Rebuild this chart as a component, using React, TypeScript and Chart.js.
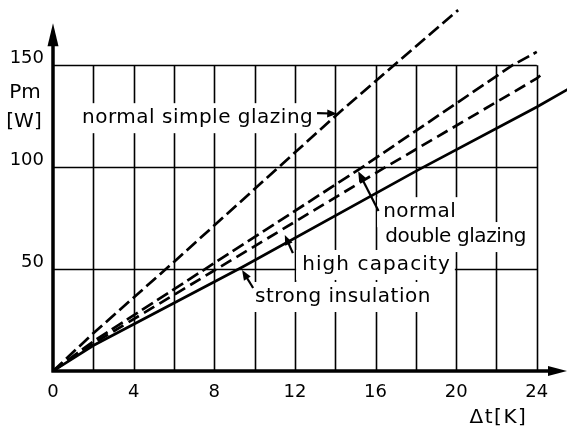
import React, { useEffect, useRef } from "react";
import { Chart, registerables } from "chart.js";

Chart.register(...registerables);

// ---- data ----
const xTickValues = [0, 4, 8, 12, 16, 20, 24];
const yTickValues = [50, 100, 150];
const gridXValues = [2, 4, 6, 8, 10, 12, 14, 16, 18, 20, 22, 24];
const gridYValues = [50, 100, 150];

const simpleGlazingX = [0, 2, 6, 14, 16.8, 20.1];
const simpleGlazingY = [0, 18.5, 53.5, 125, 149, 177];
const doubleGlazingX = [0, 2, 15.2, 22.8, 24];
const doubleGlazingY = [0, 14.5, 99, 150, 156.5];
const highCapacityX = [0, 2, 16.5, 24, 24.3];
const highCapacityY = [0, 13.5, 100, 143.5, 146];
const strongInsulationX = [0, 2, 9.4, 18.1, 24, 25.6];
const strongInsulationY = [0, 12.5, 51, 98.5, 129.5, 138.5];

const labelSimple = ["normal simple glazing"];
const labelDouble = ["normal", "double glazing"];
const labelCapacity = ["high capacity"];
const labelInsulation = ["strong insulation"];

const FONT = '"DejaVu Sans", sans-serif';

type Ann = {
  lines: string[];
  x: number[]; // left x (data) per line
  y: number[]; // centre y (data) per line
  sp: number[]; // letter spacing per line
  from: [number, number];
  to: [number, number];
};

const annotations: Ann[] = [
  { lines: labelSimple, x: [1.44], y: [124], sp: [0.5], from: [13.1, 126.5], to: [14.1, 126.2] },
  { lines: labelDouble, x: [16.38, 16.48], y: [77.9, 65.7], sp: [0.5, -0.4], from: [16.15, 78.5], to: [15.14, 98] },
  { lines: labelCapacity, x: [12.36], y: [52], sp: [1.1], from: [11.9, 57.8], to: [11.5, 66.7] },
  { lines: labelInsulation, x: [10.02], y: [36.3], sp: [0.5], from: [9.93, 40.7], to: [9.38, 49.5] },
];

const toPoints = (xs: number[], ys: number[]) => xs.map((x, i) => ({ x, y: ys[i] }));

function setTextFont(ctx: CanvasRenderingContext2D, sp: number) {
  ctx.font = `20px ${FONT}`;
  (ctx as any).letterSpacing = `${sp}px`;
}

const engPlugin = {
  id: "engPlugin",
  beforeDatasetsDraw(chart: any) {
    const { ctx, scales } = chart;
    const xs = scales.x;
    const ys = scales.y;
    ctx.save();
    const x0 = xs.getPixelForValue(0);
    const xg = xs.getPixelForValue(24);
    const y0 = ys.getPixelForValue(0);
    const yg = ys.getPixelForValue(150);
    ctx.strokeStyle = "#000";
    ctx.lineWidth = 1.6;
    ctx.beginPath();
    gridXValues.forEach((v) => {
      const p = Math.round(xs.getPixelForValue(v)) + 0.5;
      ctx.moveTo(p, y0);
      ctx.lineTo(p, yg);
    });
    gridYValues.forEach((v) => {
      const p = Math.round(ys.getPixelForValue(v)) + 0.5;
      ctx.moveTo(x0, p);
      ctx.lineTo(xg, p);
    });
    ctx.stroke();

    // white boxes that interrupt the grid behind the labels
    ctx.fillStyle = "#fff";
    annotations.forEach((a) => {
      a.lines.forEach((t, i) => {
        setTextFont(ctx, a.sp[i]);
        const w = ctx.measureText(t).width;
        const lx = xs.getPixelForValue(a.x[i]);
        const cy = ys.getPixelForValue(a.y[i]);
        ctx.fillRect(lx - 6, cy - 15, w + 10, 30);
      });
    });
    (ctx as any).letterSpacing = "0px";
    ctx.restore();
  },
  afterDatasetsDraw(chart: any) {
    const { ctx, scales, chartArea } = chart;
    const xs = scales.x;
    const ys = scales.y;
    ctx.save();
    ctx.fillStyle = "#000";
    ctx.strokeStyle = "#000";

    // axes
    const x0 = xs.getPixelForValue(0);
    const y0 = ys.getPixelForValue(0);
    const yTip = ys.getPixelForValue(170.5);
    const xTip = chartArea.right;
    ctx.lineWidth = 3.5;
    ctx.beginPath();
    ctx.moveTo(x0, y0 + 1.5);
    ctx.lineTo(x0, yTip + 12);
    ctx.moveTo(x0 - 1.5, y0);
    ctx.lineTo(xTip - 10, y0);
    ctx.stroke();
    ctx.beginPath();
    ctx.moveTo(x0, yTip);
    ctx.lineTo(x0 - 5.5, yTip + 23);
    ctx.lineTo(x0 + 5.5, yTip + 23);
    ctx.closePath();
    ctx.fill();
    ctx.beginPath();
    ctx.moveTo(xTip, y0);
    ctx.lineTo(xTip - 19, y0 - 5);
    ctx.lineTo(xTip - 19, y0 + 5);
    ctx.closePath();
    ctx.fill();

    // y tick labels (above their grid line, as in the reference)
    ctx.font = `18px ${FONT}`;
    ctx.textAlign = "right";
    ctx.textBaseline = "middle";
    yTickValues.forEach((v) => {
      ctx.fillText(String(v), chartArea.left - 9, ys.getPixelForValue(v) - 7);
    });

    // axis titles
    ctx.font = `20px ${FONT}`;
    ctx.textAlign = "center";
    ctx.fillText("Pm", chartArea.left - 28, 93);
    ctx.fillText("[W]", chartArea.left - 29, 122);
    (ctx as any).letterSpacing = "1.5px";
    ctx.fillText("Δt[K]", xs.getPixelForValue(22.1), y0 + 47);

    // labels and arrows
    ctx.textAlign = "left";
    annotations.forEach((a) => {
      a.lines.forEach((t, i) => {
        setTextFont(ctx, a.sp[i]);
        ctx.fillText(t, xs.getPixelForValue(a.x[i]), ys.getPixelForValue(a.y[i]));
      });
      const fx = xs.getPixelForValue(a.from[0]);
      const fy = ys.getPixelForValue(a.from[1]);
      const tx = xs.getPixelForValue(a.to[0]);
      const ty = ys.getPixelForValue(a.to[1]);
      const ang = Math.atan2(ty - fy, tx - fx);
      ctx.lineWidth = 2.2;
      ctx.beginPath();
      ctx.moveTo(fx, fy);
      ctx.lineTo(tx - 6 * Math.cos(ang), ty - 6 * Math.sin(ang));
      ctx.stroke();
      ctx.beginPath();
      ctx.moveTo(tx, ty);
      ctx.lineTo(tx - 10 * Math.cos(ang) + 4 * Math.sin(ang), ty - 10 * Math.sin(ang) - 4 * Math.cos(ang));
      ctx.lineTo(tx - 10 * Math.cos(ang) - 4 * Math.sin(ang), ty - 10 * Math.sin(ang) + 4 * Math.cos(ang));
      ctx.closePath();
      ctx.fill();
    });
    (ctx as any).letterSpacing = "0px";
    ctx.restore();
  },
};

export default function App() {
  const ref = useRef<HTMLCanvasElement | null>(null);
  useEffect(() => {
    if (!ref.current) return;
    const lineDs = (label: string, xs: number[], ys: number[], dash: number[]) => ({
      label,
      data: toPoints(xs, ys),
      borderColor: "#000",
      borderWidth: 2.7,
      borderDash: dash,
      pointRadius: 0,
      showLine: true,
      fill: false,
      tension: 0,
    });
    const chart = new Chart(ref.current, {
      type: "scatter",
      data: {
        datasets: [
          lineDs("normal simple glazing", simpleGlazingX, simpleGlazingY, [13, 5]),
          lineDs("normal double glazing", doubleGlazingX, doubleGlazingY, [13, 5]),
          lineDs("high capacity", highCapacityX, highCapacityY, [12, 6]),
          lineDs("strong insulation", strongInsulationX, strongInsulationY, []),
        ],
      },
      options: {
        responsive: false,
        animation: false,
        layout: { padding: { top: 4, right: 1, left: 0, bottom: 0 } },
        plugins: { legend: { display: false }, tooltip: { enabled: false } },
        scales: {
          x: {
            type: "linear",
            min: 0,
            max: 25.5,
            grid: { display: false, drawTicks: false },
            border: { display: false },
            afterBuildTicks: (axis: any) => {
              axis.ticks = xTickValues.map((v) => ({ value: v }));
            },
            afterFit: (scale: any) => {
              scale.height = 59;
              scale.paddingLeft = 0;
              scale.paddingRight = 0;
            },
            ticks: {
              color: "#000",
              font: { family: FONT, size: 18 },
              padding: 11,
              maxRotation: 0,
              autoSkip: false,
            },
          },
          y: {
            type: "linear",
            min: 0,
            max: 180,
            grid: { display: false, drawTicks: false },
            border: { display: false },
            afterBuildTicks: (axis: any) => {
              axis.ticks = yTickValues.map((v) => ({ value: v }));
            },
            afterFit: (scale: any) => {
              scale.width = 53;
              scale.paddingTop = 0;
              scale.paddingBottom = 0;
            },
            ticks: { display: false },
          },
        },
      },
      plugins: [engPlugin],
    } as any);
    return () => chart.destroy();
  }, []);
  return (
    <div style={{ position: "fixed", left: 0, top: 0, width: 568, height: 430, background: "#fff" }}>
      <canvas ref={ref} width={568} height={430} />
    </div>
  );
}
